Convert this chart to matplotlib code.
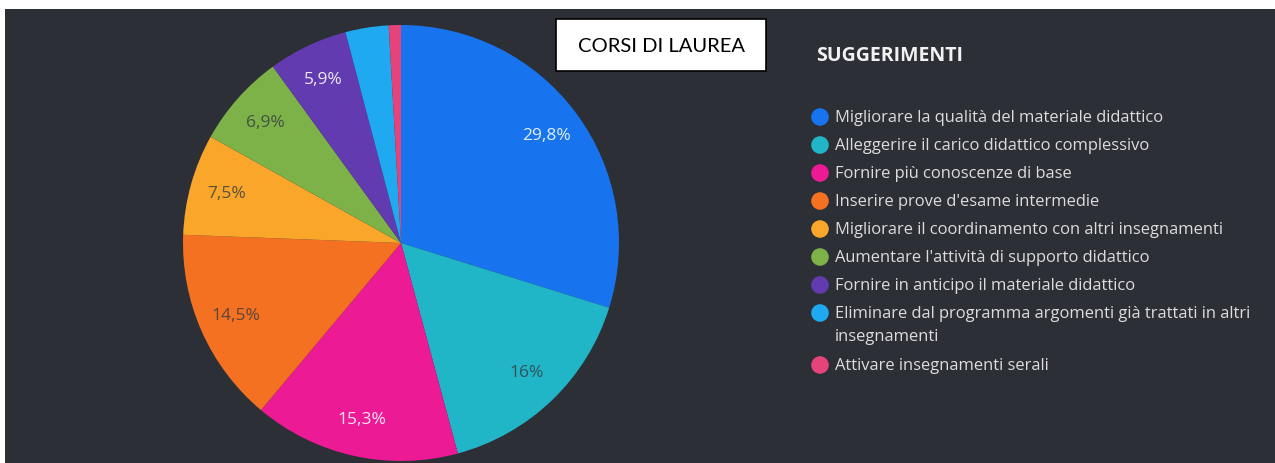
import numpy as np
import matplotlib
matplotlib.use('Agg')
import matplotlib.pyplot as plt
from matplotlib.patches import Rectangle

# data (percent of answers)
categories = ['Migliorare la qualità del materiale didattico',
              'Alleggerire il carico didattico complessivo',
              'Fornire più conoscenze di base',
              'Inserire prove d\'esame intermedie',
              'Migliorare il coordinamento con altri insegnamenti',
              'Aumentare l\'attività di supporto didattico',
              'Fornire in anticipo il materiale didattico',
              'Eliminare dal programma argomenti già trattati in altri\ninsegnamenti',
              'Attivare insegnamenti serali']
values = [29.8, 16.0, 15.3, 14.5, 7.5, 6.9, 5.9, 3.2, 0.9]
pct_labels = ['29,8%', '16%', '15,3%', '14,5%', '7,5%', '6,9%', '5,9%', '', '']
colors = ['#1774ee', '#20b5c7', '#ec1a95', '#f47121', '#f9a62a',
          '#7db249', '#633bb0', '#1fa9f0', '#e6437b']
label_dark = [False, True, False, True, True, True, False, False, False]

W, H = 1275, 463
bg = '#2d2f37'

fig = plt.figure(figsize=(W / 100, H / 100), dpi=100)
fig.patch.set_facecolor('white')

# dark panel, slightly inset from top/left like the screenshot
fig.patches.append(Rectangle((5 / W, 0), 1 - 5 / W, (H - 9) / H,
                             transform=fig.transFigure, facecolor=bg,
                             edgecolor='none', zorder=-5))

# pie axes, centre (401,243) px, radius 218 px
cx, cy, r = 401, 243, 218
ax = fig.add_axes([(cx - r) / W, (H - cy - r) / H, 2 * r / W, 2 * r / H])
ax.set_facecolor('none')
it = iter(pct_labels)
wedges, texts, autotexts = ax.pie(values, colors=colors, startangle=90,
                                  counterclock=False,
                                  autopct=lambda p: next(it),
                                  pctdistance=0.83,
                                  wedgeprops=dict(linewidth=0),
                                  textprops=dict(fontsize=12.5, family='Open Sans'))
for t, dark in zip(autotexts, label_dark):
    if dark:
        t.set_color('#353a40')
        t.set_alpha(0.8)
    else:
        t.set_color('white')
        t.set_alpha(0.88)
ax.set_xlim(-1, 1)
ax.set_ylim(-1, 1)
ax.set_aspect('equal')
ax.axis('off')

# overlay in pixel coordinates for title box and legend
ov = fig.add_axes([0, 0, 1, 1])
ov.set_xlim(0, W)
ov.set_ylim(H, 0)
ov.axis('off')
ov.set_facecolor('none')

ov.add_patch(Rectangle((556, 19), 210, 52, facecolor='white',
                       edgecolor='black', linewidth=1.2))
ov.text(661, 46, 'CORSI DI LAUREA', ha='center', va='center',
        fontsize=14.5, family='Lato', color='black')

ov.text(816, 56, 'SUGGERIMENTI', ha='left', va='center', fontsize=14,
        fontweight='bold', family='Open Sans', color='#f2f2f2')

row_y = [117, 145, 173, 201, 229, 257, 285, 313, 365]
for name, c, y in zip(categories, colors, row_y):
    ov.scatter([820], [y], s=160, color=c, edgecolors='none')
    ov.text(835, y - 7, name, ha='left', va='top', fontsize=11.9,
            family='Open Sans', color='#dcdcdc', linespacing=1.58)

fig.savefig('out.png', dpi=100, facecolor=fig.get_facecolor())
